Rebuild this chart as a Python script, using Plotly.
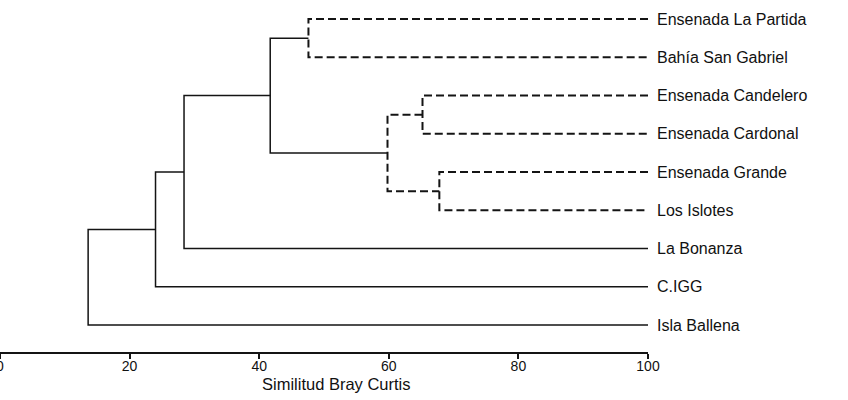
import plotly.graph_objects as go

# Leaves, top to bottom
leaves = ["Ensenada La Partida", "Bahía San Gabriel", "Ensenada Candelero",
          "Ensenada Cardonal", "Ensenada Grande", "Los Islotes",
          "La Bonanza", "C.IGG", "Isla Ballena"]

# Merges: (left child, right child, similarity, dashed)
# children: integers = leaf index, strings = earlier merge name
merge_names = ["A", "B", "C", "D", "E", "F", "G", "H"]
merge_left = [0, 2, 4, "B", "A", "E", "F", "G"]
merge_right = [1, 3, 5, "C", "D", 6, 7, 8]
merge_sim = [47.6, 65.2, 67.8, 59.8, 41.7, 28.4, 24.0, 13.6]
merge_dashed = [True, True, True, True, False, False, False, False]

tick_vals = [0, 20, 40, 60, 80, 100]
x_title = "Similitud Bray Curtis"

COLOR = "#141414"
FONT = "Liberation Sans, Arial, sans-serif"
pos = {}
for i, _ in enumerate(leaves):
    pos[i] = (100.0, float(i))

fig = go.Figure()
for name, l, r, s, d in zip(merge_names, merge_left, merge_right, merge_sim, merge_dashed):
    xl, yl = pos[l]
    xr, yr = pos[r]
    xs = [xl, s, s, xr]
    ys = [yl, yl, yr, yr]
    fig.add_trace(go.Scatter(
        x=xs, y=ys, mode="lines", hoverinfo="skip", showlegend=False,
        line=dict(color=COLOR, width=2 if d else 1.5,
                  dash="8px,4px" if d else "solid"),
    ))
    pos[name] = (s, (yl + yr) / 2)

for i, lab in enumerate(leaves):
    fig.add_annotation(x=100, y=i, xref="x", yref="y", text=lab,
                       showarrow=False, xanchor="left", xshift=7,
                       font=dict(size=16, color="#111111", family=FONT))

fig.add_annotation(x=51.9, y=0, xref="x", yref="paper", text=x_title,
                   showarrow=False, xanchor="center", yanchor="middle",
                   yshift=-32,
                   font=dict(size=16.5, color="#111111", family=FONT))

fig.update_layout(
    width=848, height=400,
    margin=dict(l=0, r=200, t=0, b=48, pad=0),
    paper_bgcolor="white", plot_bgcolor="white",
    font=dict(family=FONT, color="#111111"),
    xaxis=dict(range=[0, 100], tickvals=tick_vals, ticks="outside",
               ticklen=5, tickwidth=1.5, tickcolor=COLOR,
               showline=True, linecolor=COLOR, linewidth=2,
               showgrid=False, zeroline=False, automargin=False,
               ticklabeloverflow="allow", ticklabelstandoff=-5,
               tickfont=dict(size=14, color="#111111")),
    yaxis=dict(range=[8.706, -0.497], visible=False, showgrid=False,
               zeroline=False),
)
fig.update_traces(cliponaxis=False)

fig.write_html("out.html", config={"displayModeBar": False})

# remove the default page margin so the figure sits at the window's corner
with open("out.html", "r", encoding="utf-8") as f:
    html = f.read()
html = html.replace("<head>", "<head><style>html,body{margin:0;padding:0;overflow:hidden}</style>", 1)
with open("out.html", "w", encoding="utf-8") as f:
    f.write(html)
